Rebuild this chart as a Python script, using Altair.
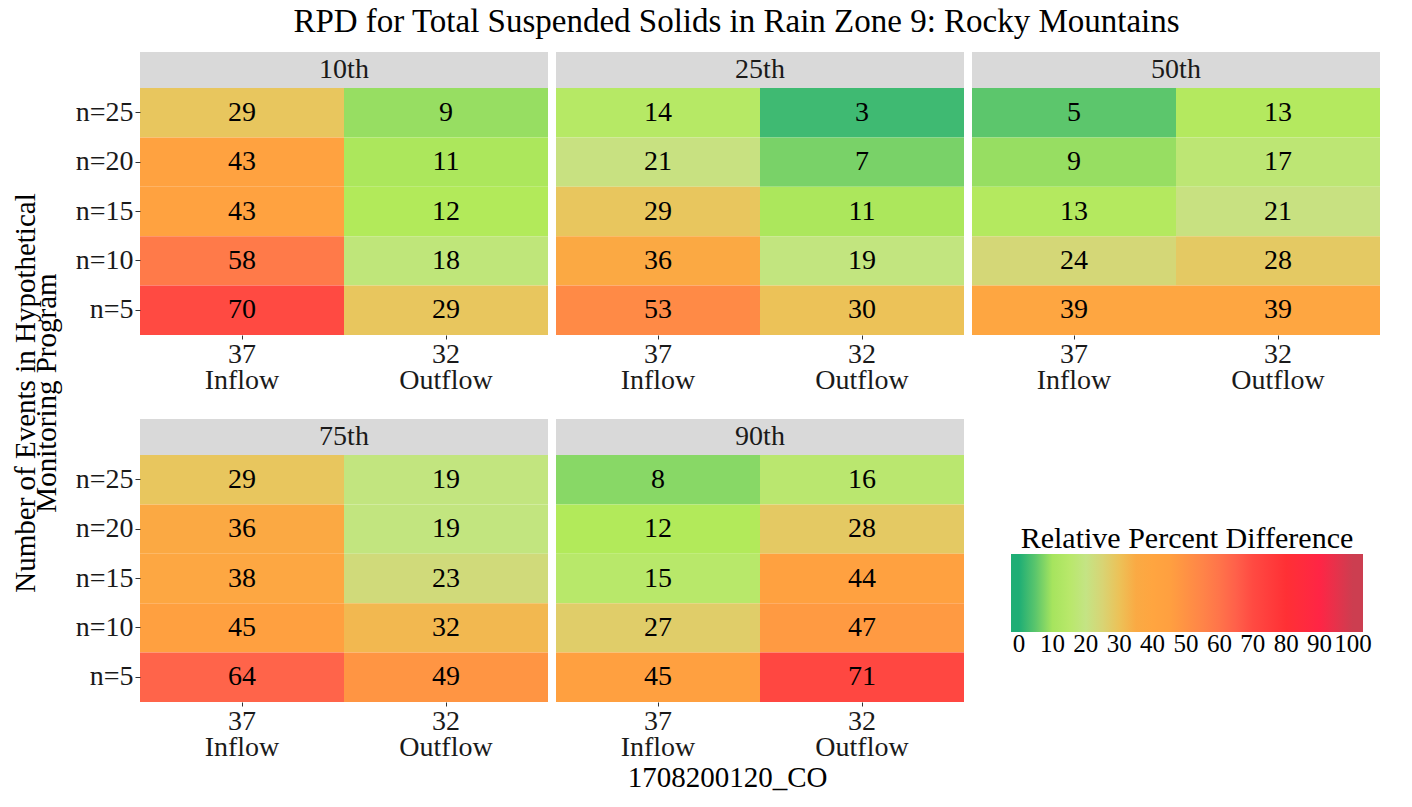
import altair as alt
import pandas as pd

percentiles = ["10th", "25th", "50th", "75th", "90th"]
n_levels = ["n=25", "n=20", "n=15", "n=10", "n=5"]
locations = ["Inflow", "Outflow"]
loc_counts = ["37", "32"]

inflow_10 = [29, 43, 43, 58, 70]
outflow_10 = [9, 11, 12, 18, 29]
inflow_25 = [14, 21, 29, 36, 53]
outflow_25 = [3, 7, 11, 19, 30]
inflow_50 = [5, 9, 13, 24, 39]
outflow_50 = [13, 17, 21, 28, 39]
inflow_75 = [29, 36, 38, 45, 64]
outflow_75 = [19, 19, 23, 32, 49]
inflow_90 = [8, 12, 15, 27, 45]
outflow_90 = [16, 28, 44, 47, 71]

series = {
    "10th": (inflow_10, outflow_10),
    "25th": (inflow_25, outflow_25),
    "50th": (inflow_50, outflow_50),
    "75th": (inflow_75, outflow_75),
    "90th": (inflow_90, outflow_90),
}

color_domain = [-2.4, 0, 3, 5, 8, 10, 12, 15, 20, 25, 30, 35, 40, 45, 50, 55, 60, 65, 70, 80, 90, 100, 103]
color_range = ["#1fae75", "#1fae75", "#3fba72", "#5cc66c", "#88d866", "#a6e45e", "#b2ea5a", "#b8e86a",
               "#c4e484", "#d8d474", "#ecc258", "#faaa44", "#ffa540", "#ffa040", "#ff9244",
               "#ff8448", "#ff744a", "#ff604a", "#ff4a42", "#ff3035", "#ff2545", "#cc3e50", "#cc3e50"]
legend_values = [0, 10, 20, 30, 40, 50, 60, 70, 80, 90, 100]

FONT = "Liberation Serif, Times New Roman, Nimbus Roman, DejaVu Serif, serif"
W, H, HH = 408, 247, 36

label_expr = "datum.value == '{0}' ? ['{1}', '{0}'] : ['{3}', '{2}']".format(
    locations[0], loc_counts[0], locations[1], loc_counts[1])


def panel(p, show_y):
    inf, outf = series[p]
    rows = []
    for i, n in enumerate(n_levels):
        rows.append({"loc": locations[0], "n": n, "rpd": inf[i]})
        rows.append({"loc": locations[1], "n": n, "rpd": outf[i]})
    df = pd.DataFrame(rows)
    yaxis = alt.Axis(title=None, labelFontSize=28, labelFont=FONT, labelColor="#1a1a1a",
                     tickSize=5, tickColor="#333333", domain=False, labelPadding=2) if show_y else None
    base = alt.Chart(df).encode(
        x=alt.X("loc:N", sort=locations, scale=alt.Scale(paddingInner=0, paddingOuter=0),
                axis=alt.Axis(title=None, labelExpr=label_expr, labelAngle=0, labelFontSize=28,
                              labelFont=FONT, labelColor="#1a1a1a", labelLineHeight=26,
                              tickSize=4, tickColor="#333333", domain=False, labelPadding=1)),
        y=alt.Y("n:N", sort=n_levels, scale=alt.Scale(paddingInner=0, paddingOuter=0), axis=yaxis),
    )
    rect = base.mark_rect().encode(
        color=alt.Color("rpd:Q",
                        scale=alt.Scale(domain=color_domain, range=color_range, interpolate="rgb"),
                        legend=alt.Legend(title="Relative Percent Difference", values=legend_values,
                                          orient="none", direction="horizontal",
                                          legendX=1006, legendY=472,
                                          gradientLength=352, gradientThickness=78,
                                          titleFontSize=30, titleFont=FONT, titleFontWeight="normal",
                                          titleColor="black", titleAnchor="middle", titleLimit=1000,
                                          titlePadding=0,
                                          labelFontSize=25, labelFont=FONT, labelColor="black",
                                          labelOffset=0, labelOverlap=False, gradientStrokeWidth=0))
    )
    text = base.mark_text(font=FONT, fontSize=28, color="black").encode(text="rpd:Q")
    heat = (rect + text).properties(width=W, height=H)
    hbase = alt.Chart(pd.DataFrame({"p": [p]})).encode(
        x=alt.X("p:N", axis=None, scale=alt.Scale(paddingInner=0, paddingOuter=0)))
    hdr = (hbase.mark_rect(color="#d9d9d9").encode(y=alt.value(0), y2=alt.value(HH))
           + hbase.mark_text(font=FONT, fontSize=28, color="#1a1a1a").encode(text="p:N")
           ).properties(width=W, height=HH)
    return alt.vconcat(hdr, heat, spacing=0)


row1 = alt.hconcat(panel("10th", True), panel("25th", False), panel("50th", False), spacing=8)
row2 = alt.hconcat(panel("75th", True), panel("90th", False), spacing=8)
grid = alt.vconcat(row1, row2, spacing=25,
                   title=alt.Title("1708200120_CO", orient="bottom", font=FONT, fontSize=29,
                                   fontWeight="normal", color="black", anchor="middle", offset=3))

ytitle = alt.Chart(pd.DataFrame({"t": [0]})).mark_text(
    angle=270, font=FONT, fontSize=29, lineHeight=21, color="black", align="center", baseline="middle"
).encode(
    text=alt.value(["Number of Events in Hypothetical", "Monitoring Program"]),
    x=alt.value(21), y=alt.value(341),
).properties(width=50, height=650)

chart = alt.hconcat(ytitle, grid, spacing=12).properties(
    title=alt.Title("RPD for Total Suspended Solids in Rain Zone 9: Rocky Mountains",
                    font=FONT, fontSize=33, fontWeight="normal", color="black", anchor="middle",
                    offset=13, dx=44),
    padding={"left": 5, "top": 6, "right": 5, "bottom": 5},
    background="white",
).configure_view(stroke=None, strokeWidth=0, strokeOpacity=0)

chart.save("out.html", embed_options={"renderer": "svg", "actions": False})
